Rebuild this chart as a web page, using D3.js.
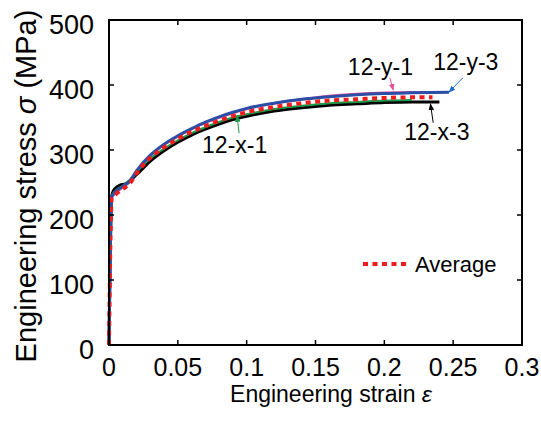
<!DOCTYPE html>
<html>
<head>
<meta charset="utf-8">
<script src="https://cdn.jsdelivr.net/npm/d3@7"></script>
<style>
  body { margin: 0; background: #fff; }
  svg { display: block; font-family: "Liberation Sans", Arial, sans-serif; }
</style>
</head>
<body>
<div id="chart"></div>
<script>
// strain / stress readings for each specimen
let strainY3 = [0, 0.002, 0.005, 0.01, 0.015, 0.02, 0.03, 0.04, 0.05, 0.06, 0.07, 0.08, 0.09, 0.1, 0.12, 0.14, 0.16, 0.18, 0.2, 0.22, 0.247];
let stressY3 = [0, 228, 236, 244, 252, 268, 292, 309, 322, 333, 343, 351, 358, 364, 372, 378, 382, 385, 387, 388, 389];

let strainY1 = [0, 0.002, 0.005, 0.01, 0.015, 0.02, 0.03, 0.04, 0.05, 0.06, 0.07, 0.08, 0.09, 0.1, 0.12, 0.14, 0.16, 0.18, 0.2, 0.22, 0.245];
let stressY1 = [0, 226, 234, 243, 251, 267, 291, 308, 321, 332, 342, 350, 357, 363, 372, 378, 383, 386, 388, 389, 389];

let strainX1 = [0, 0.002, 0.005, 0.01, 0.015, 0.02, 0.03, 0.04, 0.05, 0.06, 0.07, 0.08, 0.09, 0.1, 0.12, 0.14, 0.16, 0.18, 0.2, 0.22];
let stressX1 = [0, 229, 238, 245, 254, 266, 287, 302, 315, 326, 335, 343, 350, 355, 363, 368, 372, 374, 376, 377];

let strainX3 = [0, 0.002, 0.004, 0.008, 0.012, 0.02, 0.03, 0.04, 0.05, 0.06, 0.07, 0.08, 0.09, 0.1, 0.12, 0.14, 0.16, 0.18, 0.2, 0.22, 0.24];
let stressX3 = [0, 230, 240, 246, 248, 262, 283, 299, 312, 323, 332, 340, 347, 352, 360, 365, 369, 371, 373, 374, 374];

let strainAvg = [0, 0.002, 0.005, 0.01, 0.015, 0.02, 0.03, 0.04, 0.05, 0.06, 0.07, 0.08, 0.09, 0.1, 0.12, 0.14, 0.16, 0.18, 0.2, 0.22, 0.235];
let stressAvg = [0, 226, 232, 240, 248, 264, 288, 304, 317, 328, 337, 345, 352, 358, 366, 372, 376, 378, 380, 381, 381];

let xTicks = [0, 0.05, 0.1, 0.15, 0.2, 0.25, 0.3];
let yTicks = [0, 100, 200, 300, 400, 500];

// label text, where it sits (strain, stress) and where its arrow points
let labelNames = ['12-y-1', '12-y-3', '12-x-3', '12-x-1'];
let labelAt = [[0.1735, 415], [0.2355, 423], [0.2145, 315], [0.0676, 295]];
let arrowFrom = [[0.204, 411], [0.257, 411], [0.2355, 342], [0.0945, 326]];
let arrowTo = [[0.2065, 392], [0.247, 389], [0.2335, 371], [0.0930, 353]];

let width = 541, height = 425;
let margin = { top: 20, right: 19, bottom: 80, left: 109 };

let x = d3.scaleLinear().domain([0, 0.3]).range([margin.left, width - margin.right]);
let y = d3.scaleLinear().domain([0, 500]).range([height - margin.bottom, margin.top]);

let svg = d3.select('#chart').append('svg')
  .attr('width', width)
  .attr('height', height);

let defs = svg.append('defs');
let series = [
  { key: 'x3', strain: strainX3, stress: stressX3, color: '#000000', width: 3, dash: null },
  { key: 'x1', strain: strainX1, stress: stressX1, color: '#1a9a4a', width: 2, dash: null },
  { key: 'y1', strain: strainY1, stress: stressY1, color: '#e8509a', width: 2.5, dash: null },
  { key: 'y3', strain: strainY3, stress: stressY3, color: '#2b4fa6', width: 3, dash: null },
  { key: 'avg', strain: strainAvg, stress: stressAvg, color: '#ee1c1c', width: 4, dash: '5,4.5' }
];
let arrowColors = ['#e8509a', '#1f6fc8', '#000000', '#1a9a4a'];

arrowColors.forEach((c, i) => {
  defs.append('marker')
    .attr('id', 'arrow' + i)
    .attr('viewBox', '0 0 10 10')
    .attr('refX', 9).attr('refY', 5)
    .attr('markerWidth', 7).attr('markerHeight', 7)
    .attr('markerUnits', 'userSpaceOnUse')
    .attr('orient', 'auto')
    .append('path')
    .attr('d', 'M0,1 L10,5 L0,9 Z')
    .attr('fill', c);
});

let line = d3.line()
  .x(d => x(d[0]))
  .y(d => y(d[1]))
  .curve(d3.curveMonotoneX);

svg.append('g').selectAll('path')
  .data(series)
  .enter().append('path')
  .attr('d', s => line(s.strain.map((v, i) => [v, s.stress[i]])))
  .attr('fill', 'none')
  .attr('stroke', s => s.color)
  .attr('stroke-width', s => s.width)
  .attr('stroke-dasharray', s => s.dash);

// frame with inward ticks on all four sides
let x0 = x.range()[0], x1 = x.range()[1];
let y0 = y.range()[0], y1 = y.range()[1];
let tickLen = 5;

svg.append('rect')
  .attr('x', x0).attr('y', y1)
  .attr('width', x1 - x0).attr('height', y0 - y1)
  .attr('fill', 'none')
  .attr('stroke', '#000')
  .attr('stroke-width', 2);

let ticks = svg.append('g').attr('stroke', '#000').attr('stroke-width', 1.5);
xTicks.slice(1, -1).forEach(t => {
  ticks.append('line').attr('x1', x(t)).attr('x2', x(t)).attr('y1', y0).attr('y2', y0 - tickLen);
  ticks.append('line').attr('x1', x(t)).attr('x2', x(t)).attr('y1', y1).attr('y2', y1 + tickLen);
});
yTicks.slice(1, -1).forEach(t => {
  ticks.append('line').attr('x1', x0).attr('x2', x0 + tickLen).attr('y1', y(t)).attr('y2', y(t));
  ticks.append('line').attr('x1', x1).attr('x2', x1 - tickLen).attr('y1', y(t)).attr('y2', y(t));
});

svg.append('g').selectAll('text')
  .data(xTicks)
  .enter().append('text')
  .attr('x', d => x(d))
  .attr('y', y0 + 31)
  .attr('text-anchor', 'middle')
  .attr('font-size', 25)
  .text(d => d3.format('')(d));

svg.append('g').selectAll('text')
  .data(yTicks)
  .enter().append('text')
  .attr('x', x0 - 15)
  .attr('y', d => y(d) + 14)
  .attr('text-anchor', 'end')
  .attr('font-size', 27)
  .text(d => d);

// axis titles
let xTitle = svg.append('text')
  .attr('x', 331).attr('y', 402)
  .attr('text-anchor', 'middle')
  .attr('font-size', 23);
xTitle.append('tspan').text('Engineering strain ');
xTitle.append('tspan').attr('font-style', 'italic').text('ε');

let yTitle = svg.append('text')
  .attr('transform', 'translate(36,186) rotate(-90)')
  .attr('text-anchor', 'middle')
  .attr('font-size', 29);
yTitle.append('tspan').text('Engineering stress ');
yTitle.append('tspan').attr('font-style', 'italic').text('σ');
yTitle.append('tspan').text(' (MPa)');

// specimen labels and arrows
labelNames.forEach((name, i) => {
  svg.append('line')
    .attr('x1', x(arrowFrom[i][0])).attr('y1', y(arrowFrom[i][1]))
    .attr('x2', x(arrowTo[i][0])).attr('y2', y(arrowTo[i][1]))
    .attr('stroke', arrowColors[i])
    .attr('stroke-width', 1)
    .attr('marker-end', `url(#arrow${i})`);
  svg.append('text')
    .attr('x', x(labelAt[i][0])).attr('y', y(labelAt[i][1]))
    .attr('font-size', 23)
    .text(name);
});

// legend
let legend = svg.append('g');
legend.append('line')
  .attr('x1', 363).attr('x2', 409).attr('y1', 264).attr('y2', 264)
  .attr('stroke', '#ee1c1c').attr('stroke-width', 4).attr('stroke-dasharray', '5,4.5');
legend.append('text')
  .attr('x', 415).attr('y', 272)
  .attr('font-size', 22)
  .text('Average');
</script>
</body>
</html>
